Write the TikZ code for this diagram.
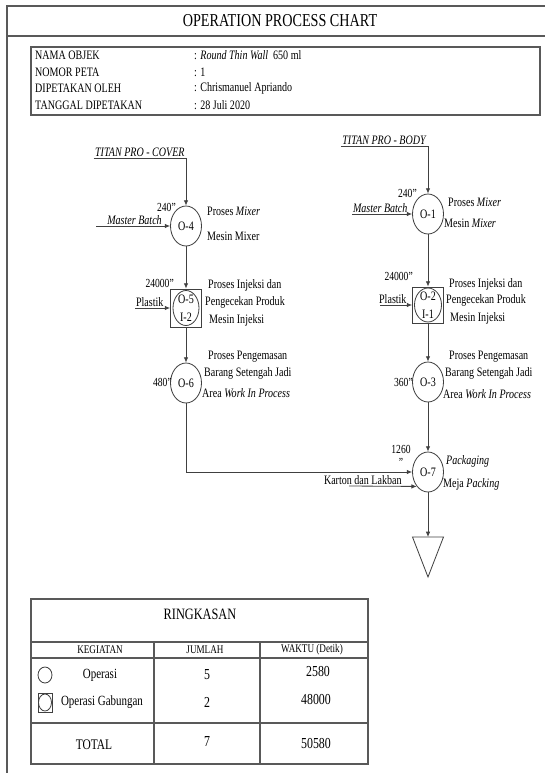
\documentclass[tikz,border=0pt]{standalone}
\usepackage{fontspec}
\setmainfont{Liberation Serif}[FakeStretch=0.78]
\usetikzlibrary{shapes.geometric,arrows.meta}
\tikzset{
  flow/.style={draw=black!75, line width=0.7pt, -{Latex[length=4.5pt,width=3.8pt]}},
  frame/.style={draw=black!65, line width=0.9pt},
  op/.style={ellipse, draw=black!75, line width=0.7pt, minimum width=0.93cm,
    minimum height=1.2cm, inner sep=0pt, font=\fontsize{11}{13}\selectfont},
  opin/.style={rectangle, draw=black!75, line width=0.7pt, minimum width=0.93cm,
    minimum height=1.14cm, inner sep=0pt, align=center, font=\fontsize{11}{15.5}\selectfont},
  tm/.style={anchor=east, inner sep=0pt, font=\fontsize{10.5}{10.5}\selectfont},
  lbl/.style={anchor=west, inner sep=0pt, font=\fontsize{11}{12}\selectfont},
  feed/.style={inner sep=1pt, font=\fontsize{11}{12}\selectfont},
  info/.style={anchor=west, inner sep=0pt, font=\fontsize{11}{12}\selectfont},
  cell/.style={inner sep=0pt, font=\fontsize{12}{13}\selectfont},
  num/.style={inner sep=0pt, font=\fontsize{13}{14}\selectfont},
  head/.style={inner sep=0pt, font=\fontsize{10}{11}\selectfont},
}
\begin{document}
\begin{tikzpicture}[x=0.03cm, y=-0.03cm]
  \useasboundingbox (0,0) rectangle (545,773);
  \draw[frame] (545,6) -- (7,6) -- (7,773);
  \draw[frame] (7,36) -- (545,36);
  \node[font=\fontsize{15.5}{17}\selectfont] (title) at (280,21) {OPERATION PROCESS CHART};

  \draw[frame] (31,47) rectangle (540,115);
  \node[info] (k1) at (35,55) {NAMA OBJEK};
  \node[info] (k2) at (35,72) {NOMOR PETA};
  \node[info] (k3) at (35,88) {DIPETAKAN OLEH};
  \node[info] (k4) at (35,105) {TANGGAL DIPETAKAN};
  \node[info] (v1) at (194,55) {: \textit{Round Thin Wall}\ \ 650 ml};
  \node[info] (v2) at (194,72) {: 1};
  \node[info] (v3) at (194,88) {: Chrismanuel Apriando};
  \node[info] (v4) at (194,105) {: 28 Juli 2020};

  \draw
    (186,226) node[op] (o4) {O-4}
    (186,308) node[opin] (o5) {O-5\\I-2}
    (186,383) node[op] (o6) {O-6}
    (428,214) node[op] (o1) {O-1}
    (428,305) node[opin, minimum height=1.08cm] (o2) {O-2\\I-1}
    (428,382) node[op] (o3) {O-3}
    (428,472) node[op] (o7) {O-7};
  \draw[black!75, line width=0.7pt] (o5.center) ellipse [x radius=13, y radius=17.5];
  \draw[black!75, line width=0.7pt] (o2.center) ellipse [x radius=13.5, y radius=17];

  \coordinate (cc) at (186,158);
  \coordinate (cb) at (428,146);
  \node[feed, anchor=south east] (tcover) at (cc) {\textit{TITAN PRO - COVER}};
  \node[feed, anchor=south east] (tbody) at (cb) {\textit{TITAN PRO - BODY}};
  \coordinate (mb4) at (96,226);
  \coordinate (mb1) at (352,214);
  \coordinate (pl5) at (135,308);
  \coordinate (pl2) at (380,305);
  \coordinate (kl) at (349,486);
  \coordinate (store) at (428,537);

  \begin{scope}[flow]
    \draw (tcover.south west) -- (cc) -- (o4);
    \draw (tbody.south west) -- (cb) -- (o1);
    \draw (mb4) -- node[feed, above, pos=0.52] (lmb4) {\textit{Master Batch}} (o4);
    \draw (mb1) -- node[feed, above, pos=0.47] (lmb1) {\textit{Master Batch}} (o1);
    \draw (pl5) -- node[feed, above, pos=0.42] (lpl5) {Plastik} (o5);
    \draw (pl2) -- node[feed, above, pos=0.4] (lpl2) {Plastik} (o2);
    \draw (o4) -- (o5);
    \draw (o5) -- (o6);
    \draw (o1) -- (o2);
    \draw (o2) -- (o3);
    \draw (o3) -- (o7);
    \draw (o6) |- (o7);
    \draw (kl) -- (o7.south west);
    \draw (o7) -- (store);
  \end{scope}
  \node[feed, anchor=south east] (karton) at (403,486) {Karton dan Lakban};
  \draw[black!75, line width=0.7pt] (store) ++(-15.5,0) -- ++(31,0) -- (428,577) -- cycle;

  \node[tm] (t4) at (176,207) {240"};
  \node[tm] (t5) at (174,283) {24000"};
  \node[tm] (t6) at (172,382) {480"};
  \node[tm] (t1) at (417,193) {240"};
  \node[tm] (t2) at (413,276) {24000"};
  \node[tm] (t3) at (413,382) {360"};
  \node[tm, anchor=center, align=center] (t7) at (401,456) {1260\\"};

  \node[lbl] (l4a) at (207,211) {Proses \textit{Mixer}};
  \node[lbl] (l4b) at (207,236) {Mesin Mixer};
  \node[lbl] (l5a) at (208,285) {Proses Injeksi dan};
  \node[lbl] (l5b) at (205,302) {Pengecekan Produk};
  \node[lbl] (l5c) at (209,320) {Mesin Injeksi};
  \node[lbl] (l6a) at (208,357) {Proses Pengemasan};
  \node[lbl] (l6b) at (204,373) {Barang Setengah Jadi};
  \node[lbl] (l6c) at (202,393) {Area \textit{Work In Process}};
  \node[lbl] (l1a) at (448,202) {Proses \textit{Mixer}};
  \node[lbl] (l1b) at (444,223) {Mesin \textit{Mixer}};
  \node[lbl] (l2a) at (449,284) {Proses Injeksi dan};
  \node[lbl] (l2b) at (446,300) {Pengecekan Produk};
  \node[lbl] (l2c) at (450,318) {Mesin Injeksi};
  \node[lbl] (l3a) at (449,357) {Proses Pengemasan};
  \node[lbl] (l3b) at (445,373) {Barang Setengah Jadi};
  \node[lbl] (l3c) at (443,394) {Area \textit{Work In Process}};
  \node[lbl] (l7a) at (446,461) {\textit{Packaging}};
  \node[lbl] (l7b) at (443,484) {Meja \textit{Packing}};

  \draw[frame] (31,599) rectangle (368,764);
  \draw[frame] (31,642) -- (368,642);
  \draw[frame] (31,658) -- (368,658);
  \draw[frame] (31,723) -- (368,723);
  \draw[frame] (154,642) -- (154,764);
  \draw[frame] (260,642) -- (260,764);
  \node[font=\fontsize{13.5}{15}\selectfont] (rk) at (200,614) {RINGKASAN};
  \node[head] (h1) at (100,650) {KEGIATAN};
  \node[head] (h2) at (205,650) {JUMLAH};
  \node[head] (h3) at (312,650) {WAKTU (Detik)};
  \draw[black!75, line width=0.7pt] (45,675) ellipse [x radius=7, y radius=8];
  \draw[black!75, line width=0.7pt] (38,693) rectangle (52,712);
  \draw[black!75, line width=0.7pt] (45,702.5) ellipse [x radius=6.5, y radius=8.5];
  \node[cell] (r1) at (100,675) {Operasi};
  \node[cell] (r2) at (102,702) {Operasi Gabungan};
  \node[num] (n1) at (207,675) {5};
  \node[num] (n2) at (207,702) {2};
  \node[num] (w1) at (318,672) {2580};
  \node[num] (w2) at (316,700) {48000};
  \node[cell, font=\fontsize{12.5}{13}\selectfont] (tot) at (94,745) {TOTAL};
  \node[num] (n3) at (207,742) {7};
  \node[num] (w3) at (316,743) {50580};
\end{tikzpicture}
\end{document}
